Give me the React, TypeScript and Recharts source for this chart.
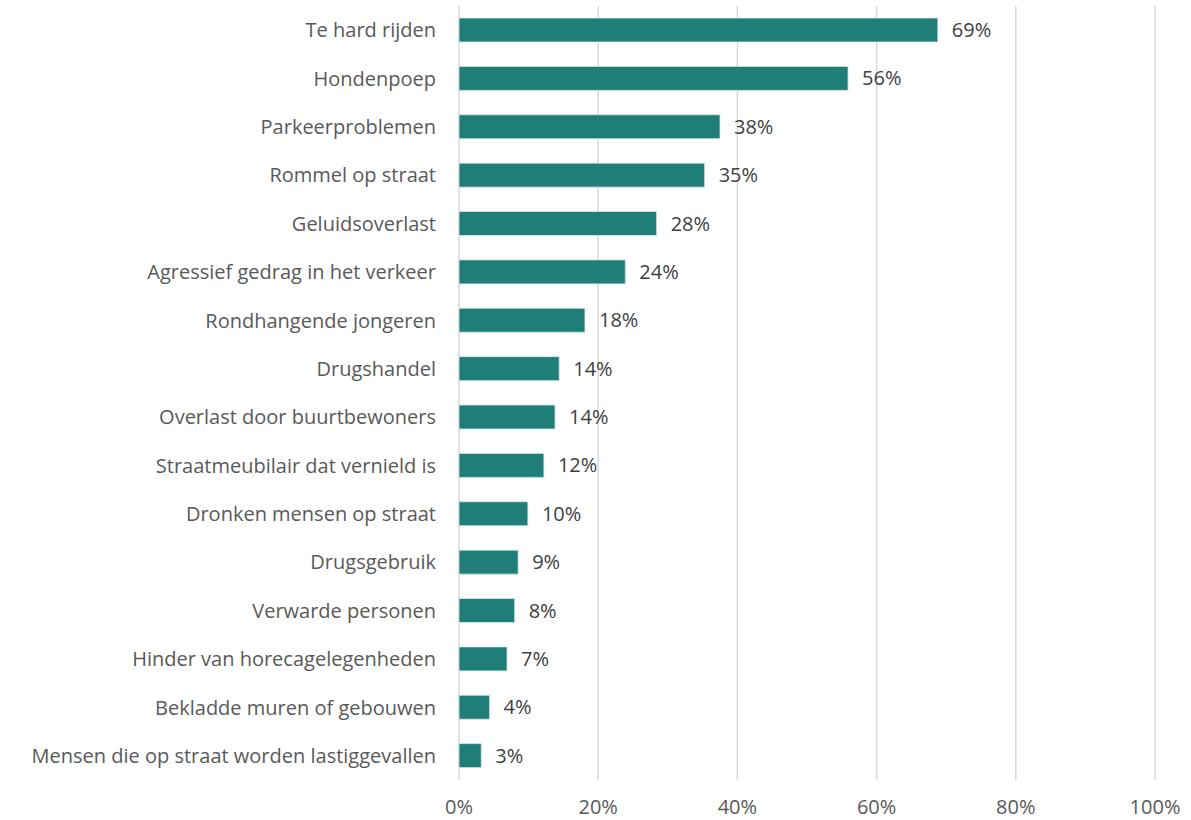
import { Bar, BarChart, CartesianGrid, LabelList, XAxis, YAxis } from "recharts";

const categories = [
  "Te hard rijden",
  "Hondenpoep",
  "Parkeerproblemen",
  "Rommel op straat",
  "Geluidsoverlast",
  "Agressief gedrag in het verkeer",
  "Rondhangende jongeren",
  "Drugshandel",
  "Overlast door buurtbewoners",
  "Straatmeubilair dat vernield is",
  "Dronken mensen op straat",
  "Drugsgebruik",
  "Verwarde personen",
  "Hinder van horecagelegenheden",
  "Bekladde muren of gebouwen",
  "Mensen die op straat worden lastiggevallen",
];

const shares = [68.8, 55.9, 37.5, 35.3, 28.4, 23.9, 18.1, 14.4, 13.8, 12.2, 9.9, 8.5, 8.0, 6.9, 4.4, 3.2];

const xTicks = [0, 20, 40, 60, 80, 100];

const FONT = "'Open Sans', 'Noto Sans', sans-serif";

export default function App() {
  const data = categories.map((name, i) => ({ name, value: shares[i] }));

  return (
    <div style={{ position: "absolute", left: 0, top: 0, background: "#fff" }}>
      <BarChart
        width={1191}
        height={820}
        data={data}
        layout="vertical"
        margin={{ top: 6, right: 36, bottom: 10, left: 0 }}
        barSize={24}
      >
        <CartesianGrid horizontal={false} stroke="#d9d9d9" strokeWidth={1.5} />
        <XAxis
          type="number"
          domain={[0, 100]}
          ticks={xTicks}
          tickFormatter={(v) => `${v}%`}
          axisLine={false}
          tickLine={false}
          height={30}
          tickSize={0}
          tickMargin={20}
          tick={{ fill: "#595959", fontSize: 20, fontFamily: FONT }}
        />
        <YAxis
          type="category"
          dataKey="name"
          width={459}
          axisLine={false}
          tickLine={false}
          tickSize={0}
          tickMargin={23}
          interval={0}
          tick={{ fill: "#595959", fontSize: 20, fontFamily: FONT }}
        />
        <Bar dataKey="value" fill="#1f7f78" stroke="#d6ebe8" strokeWidth={0.8} isAnimationActive={false}>
          <LabelList
            dataKey="value"
            position="right"
            offset={14}
            formatter={(v: any) => `${Math.round(v)}%`}
            style={{ fill: "#404040", fontSize: 20, fontFamily: FONT }}
          />
        </Bar>
      </BarChart>
    </div>
  );
}
